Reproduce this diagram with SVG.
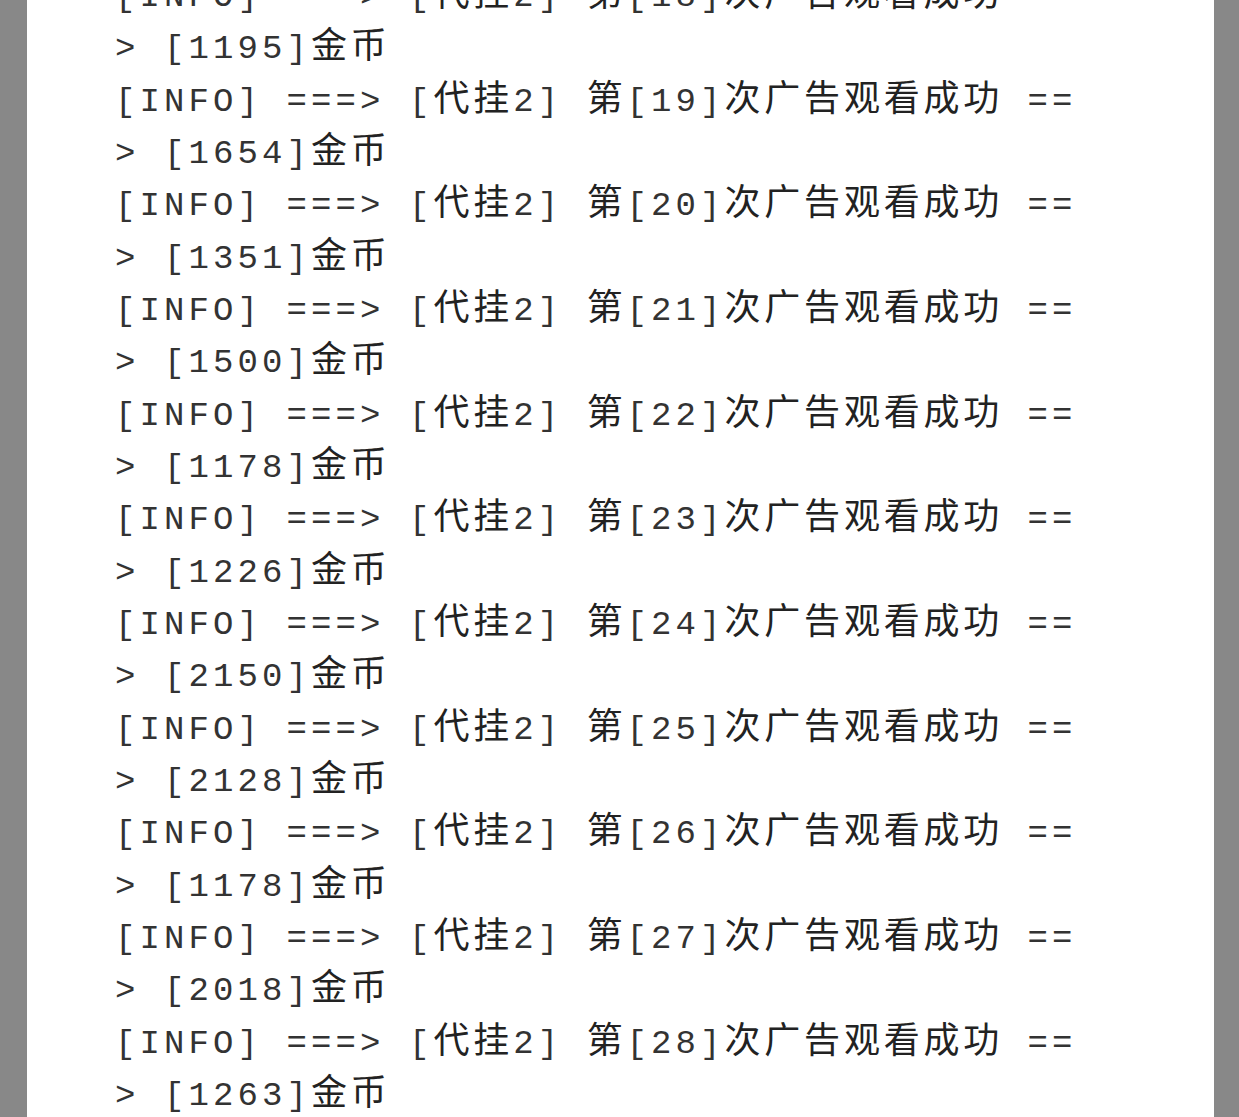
<svg xmlns="http://www.w3.org/2000/svg" width="1239" height="1117" viewBox="0 0 1239 1117">
<style>
text{font-family:"Liberation Mono","Noto Sans CJK SC",monospace;font-size:34px;letter-spacing:4.1px;fill:#333;white-space:pre}
.c{font-family:"Noto Sans CJK SC",sans-serif;font-size:36px;letter-spacing:3.8px;fill:#222}
</style>
<rect width="1239" height="1117" fill="#888"/>
<rect x="27" y="0" width="1187" height="1117" fill="#fff"/>
<g id="log" xml:space="preserve">
<text x="115" y="6">[INFO] ===> [<tspan class="c">代挂</tspan>2] <tspan class="c">第</tspan>[18]<tspan class="c">次广告观看成功</tspan> ==</text>
<text x="115" y="58">> [1195]<tspan class="c">金币</tspan></text>
<text x="115" y="111">[INFO] ===> [<tspan class="c">代挂</tspan>2] <tspan class="c">第</tspan>[19]<tspan class="c">次广告观看成功</tspan> ==</text>
<text x="115" y="163">> [1654]<tspan class="c">金币</tspan></text>
<text x="115" y="215">[INFO] ===> [<tspan class="c">代挂</tspan>2] <tspan class="c">第</tspan>[20]<tspan class="c">次广告观看成功</tspan> ==</text>
<text x="115" y="268">> [1351]<tspan class="c">金币</tspan></text>
<text x="115" y="320">[INFO] ===> [<tspan class="c">代挂</tspan>2] <tspan class="c">第</tspan>[21]<tspan class="c">次广告观看成功</tspan> ==</text>
<text x="115" y="372">> [1500]<tspan class="c">金币</tspan></text>
<text x="115" y="425">[INFO] ===> [<tspan class="c">代挂</tspan>2] <tspan class="c">第</tspan>[22]<tspan class="c">次广告观看成功</tspan> ==</text>
<text x="115" y="477">> [1178]<tspan class="c">金币</tspan></text>
<text x="115" y="529">[INFO] ===> [<tspan class="c">代挂</tspan>2] <tspan class="c">第</tspan>[23]<tspan class="c">次广告观看成功</tspan> ==</text>
<text x="115" y="582">> [1226]<tspan class="c">金币</tspan></text>
<text x="115" y="634">[INFO] ===> [<tspan class="c">代挂</tspan>2] <tspan class="c">第</tspan>[24]<tspan class="c">次广告观看成功</tspan> ==</text>
<text x="115" y="686">> [2150]<tspan class="c">金币</tspan></text>
<text x="115" y="739">[INFO] ===> [<tspan class="c">代挂</tspan>2] <tspan class="c">第</tspan>[25]<tspan class="c">次广告观看成功</tspan> ==</text>
<text x="115" y="791">> [2128]<tspan class="c">金币</tspan></text>
<text x="115" y="843">[INFO] ===> [<tspan class="c">代挂</tspan>2] <tspan class="c">第</tspan>[26]<tspan class="c">次广告观看成功</tspan> ==</text>
<text x="115" y="896">> [1178]<tspan class="c">金币</tspan></text>
<text x="115" y="948">[INFO] ===> [<tspan class="c">代挂</tspan>2] <tspan class="c">第</tspan>[27]<tspan class="c">次广告观看成功</tspan> ==</text>
<text x="115" y="1000">> [2018]<tspan class="c">金币</tspan></text>
<text x="115" y="1053">[INFO] ===> [<tspan class="c">代挂</tspan>2] <tspan class="c">第</tspan>[28]<tspan class="c">次广告观看成功</tspan> ==</text>
<text x="115" y="1105">> [1263]<tspan class="c">金币</tspan></text>
</g>
</svg>
